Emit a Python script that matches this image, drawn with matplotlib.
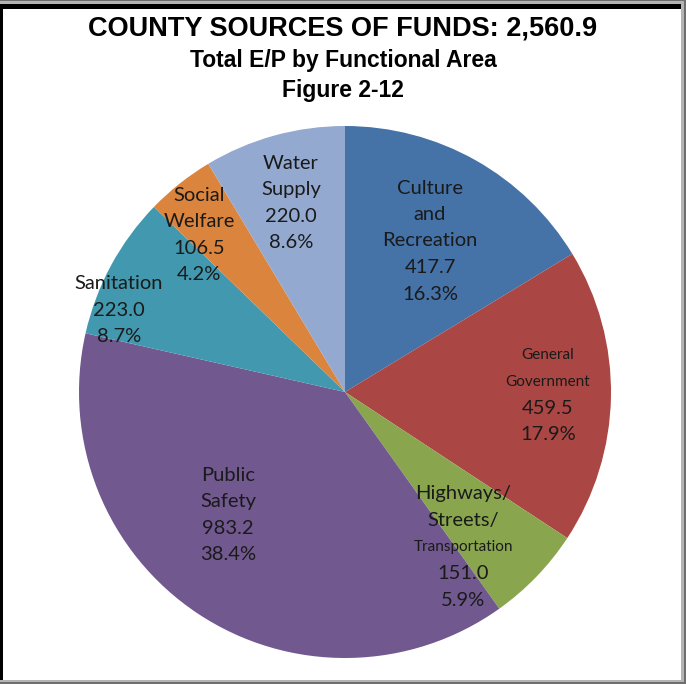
import matplotlib
matplotlib.use("Agg")
import matplotlib.pyplot as plt
from matplotlib.patches import Rectangle

categories = ["Culture and Recreation", "General Government", "Highways/Streets/Transportation",
              "Public Safety", "Sanitation", "Social Welfare", "Water Supply"]
values = [417.7, 459.5, 151.0, 983.2, 223.0, 106.5, 220.0]
percents = ["16.3%", "17.9%", "5.9%", "38.4%", "8.7%", "4.2%", "8.6%"]
name_lines = [["Culture", "and", "Recreation"], ["General", "Government"],
              ["Highways/", "Streets/", "Transportation"], ["Public", "Safety"],
              ["Sanitation"], ["Social", "Welfare"], ["Water", "Supply"]]
small_names = {"General", "Government", "Transportation"}
colors = ["#4572A7", "#AA4643", "#89A54E", "#71588F", "#4198AF", "#DB843D", "#93A9CF"]
title_lines = ["COUNTY SOURCES OF FUNDS: 2,560.9", "Total E/P by Functional Area", "Figure 2-12"]

W, H = 686, 684
fig = plt.figure(figsize=(W / 100, H / 100), dpi=100)
fig.patch.set_facecolor("#6e6e6e")

def frect(x0, y0, x1, y1, color):
    fig.patches.append(Rectangle((x0 / W, 1 - y1 / H), (x1 - x0) / W, (y1 - y0) / H,
                                 transform=fig.transFigure, facecolor=color,
                                 edgecolor="none", zorder=-5))

frect(0, 1, 684, 682, "#b4b4b4")
frect(0, 4, 681, 680, "#000000")
frect(3, 9, 681, 680, "#ffffff")

cx, cy, r = 345, 392, 266
ax = fig.add_axes([(cx - r) / W, 1 - (cy + r) / H, 2 * r / W, 2 * r / H])
ax.pie(values, colors=colors, startangle=90, counterclock=False, radius=1,
       wedgeprops=dict(edgecolor="none", linewidth=0))
ax.set_xlim(-1, 1)
ax.set_ylim(-1, 1)
ax.set_aspect("equal")
ax.axis("off")

# label centres in pixel coords
label_pos = [(430, 241), (548, 395), (463, 547), (228, 515), (119, 310), (199, 235), (291, 203)]
step = 26.5
font = ["Lato", "DejaVu Sans"]
for i in range(len(values)):
    lines = [(t, 11 if t in small_names else 14.5) for t in name_lines[i]]
    lines += [(f"{values[i]:.1f}", 14.5), (percents[i], 14.5)]
    n = len(lines)
    x, yc = label_pos[i]
    for k, (t, s) in enumerate(lines):
        y = yc + (k - (n - 1) / 2) * step
        fig.text(x / W, 1 - y / H, t, ha="center", va="center", fontsize=s,
                 family=font, color="#1a1a1a")

title_y = [29, 60, 90]
title_sizes = [19.5, 16.5, 16.5]
for t, y, s in zip(title_lines, title_y, title_sizes):
    fig.text(343 / W, 1 - y / H, t, ha="center", va="center", fontsize=s,
             fontweight="bold", family=["Liberation Sans", "DejaVu Sans"], color="black")

fig.savefig("out.png", dpi=100, facecolor=fig.get_facecolor())
